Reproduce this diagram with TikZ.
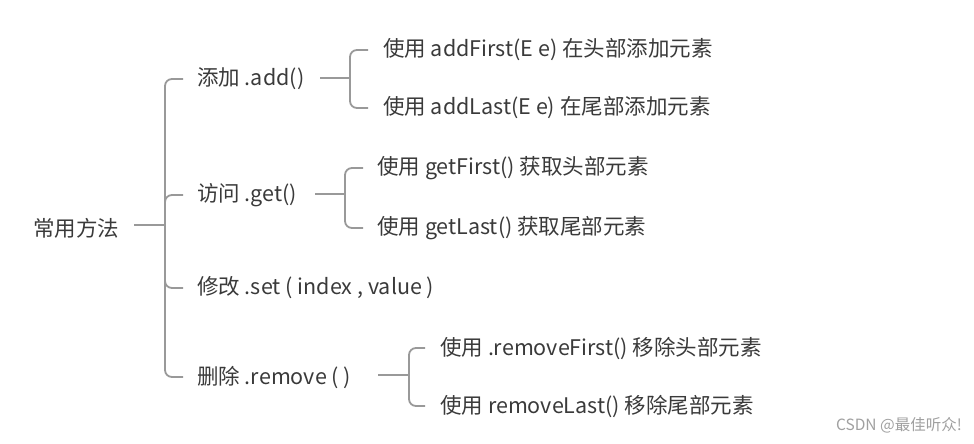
\documentclass[tikz,border=0pt]{standalone}
\usepackage{fontspec}
\newfontfamily\cjk{Noto Sans CJK SC}
\definecolor{linegray}{HTML}{999999}
\definecolor{textgray}{HTML}{3A3A3A}
\definecolor{wmgray}{HTML}{A0A0A0}
\begin{document}
\begin{tikzpicture}[x=1pt,y=-1pt,
  conn/.style={draw=linegray, line width=1.8pt, rounded corners=7pt},
  txt/.style={inner sep=0pt, anchor=west, text=textgray, font=\cjk\fontsize{21.5}{23}\selectfont},
  wm/.style={inner sep=0pt, anchor=east, text=wmgray, font=\cjk\fontsize{15.5}{16}\selectfont}]
\useasboundingbox (0,0) rectangle (974,444);
\node[txt] (root) at (33,228) {常用方法};
\node[txt] (a) at (197,79) {添加 .add()};
\node[txt] (a1) at (383,50) {使用 addFirst(E e) 在头部添加元素};
\node[txt] (a2) at (383,108) {使用 addLast(E e) 在尾部添加元素};
\node[txt] (b) at (197,195) {访问 .get()};
\node[txt] (b1) at (377,168) {使用 getFirst() 获取头部元素};
\node[txt] (b2) at (377,228) {使用 getLast() 获取尾部元素};
\node[txt] (c) at (197,288) {修改 .set ( index , value )};
\node[txt] (d) at (197,377) {删除 .remove ( )};
\node[txt] (d1) at (440,348) {使用 .removeFirst() 移除头部元素};
\node[txt] (d2) at (440,406) {使用 removeLast() 移除尾部元素};
\node[wm] (w) at (962,425) {CSDN @最佳听众!};
\coordinate (J0) at (165,225);
\coordinate (J1) at (350,78);
\coordinate (J2) at (345,194);
\coordinate (J3) at (409,375);
% root
\draw[conn] (134,225) -- (J0);
\draw[conn] (J0) |- ([xshift=-14pt]a.west);
\draw[conn] (J0) |- ([xshift=-14pt]b.west);
\draw[conn] (J0) |- ([xshift=-14pt]c.west);
\draw[conn] (J0) |- ([xshift=-14pt]d.west);
% add
\draw[conn] (320,78) -- (J1);
\draw[conn] (J1) |- ([xshift=-15pt]a1.west);
\draw[conn] (J1) |- ([xshift=-15pt]a2.west);
% get
\draw[conn] (315,194) -- (J2);
\draw[conn] (J2) |- ([xshift=-14pt]b1.west);
\draw[conn] (J2) |- ([xshift=-14pt]b2.west);
% remove
\draw[conn] (378,375) -- (J3);
\draw[conn] (J3) |- ([xshift=-15pt]d1.west);
\draw[conn] (J3) |- ([xshift=-15pt]d2.west);
\end{tikzpicture}
\end{document}
